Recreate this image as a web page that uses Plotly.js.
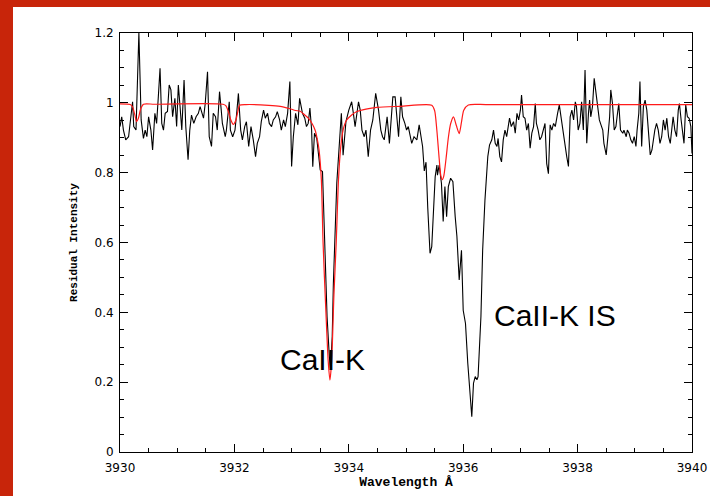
<!DOCTYPE html>
<html>
<head>
<meta charset="utf-8">
<script src="https://cdn.plot.ly/plotly-3.0.1.min.js"></script>
<style>
  html, body { margin: 0; padding: 0; width: 710px; height: 496px; overflow: hidden; background: rgb(200, 37, 10); }
  #frame { position: absolute; left: 13px; top: 7px; width: 697px; height: 489px; background: #fff; }
  #plot { width: 697px; height: 489px; }
</style>
</head>
<body>
<div id="frame"><div id="plot"></div></div>
<script>
// Observed spectrum: wavelength (Å) and residual intensity
const obsWavelength = [
  3930.00, 3930.03, 3930.06, 3930.10, 3930.15, 3930.19, 3930.22, 3930.24, 3930.28, 3930.33,
  3930.37, 3930.41, 3930.44, 3930.47, 3930.50, 3930.54, 3930.57, 3930.61, 3930.64, 3930.67,
  3930.70, 3930.73, 3930.76, 3930.79, 3930.83, 3930.86, 3930.89, 3930.92, 3930.96, 3930.99,
  3931.02, 3931.05, 3931.08, 3931.12, 3931.15, 3931.19, 3931.22, 3931.25, 3931.29, 3931.33,
  3931.37, 3931.40, 3931.43, 3931.46, 3931.49, 3931.53, 3931.56, 3931.60, 3931.63, 3931.67,
  3931.70, 3931.74, 3931.77, 3931.79, 3931.84, 3931.86, 3931.91, 3931.93, 3931.97, 3932.01,
  3932.04, 3932.07, 3932.11, 3932.14, 3932.18, 3932.21, 3932.25, 3932.29, 3932.33, 3932.37,
  3932.40, 3932.44, 3932.47, 3932.51, 3932.54, 3932.58, 3932.61, 3932.65, 3932.68, 3932.72,
  3932.75, 3932.79, 3932.82, 3932.86, 3932.89, 3932.93, 3932.97, 3933.00, 3933.03, 3933.07,
  3933.11, 3933.14, 3933.19, 3933.23, 3933.26, 3933.29, 3933.32, 3933.35, 3933.37, 3933.40,
  3933.44, 3933.47, 3933.50, 3933.54, 3933.58, 3933.62, 3933.66, 3933.68, 3933.71, 3933.73,
  3933.79, 3933.83, 3933.87, 3933.90, 3933.95, 3934.00, 3934.05, 3934.08, 3934.11, 3934.17,
  3934.20, 3934.23, 3934.27, 3934.30, 3934.34, 3934.38, 3934.42, 3934.47, 3934.52, 3934.56,
  3934.59, 3934.62, 3934.64, 3934.67, 3934.71, 3934.73, 3934.77, 3934.81, 3934.84, 3934.87,
  3934.91, 3934.94, 3934.98, 3935.01, 3935.04, 3935.10, 3935.14, 3935.19, 3935.23, 3935.26,
  3935.29, 3935.32, 3935.35, 3935.38, 3935.42, 3935.45, 3935.48, 3935.51, 3935.54, 3935.55,
  3935.58, 3935.62, 3935.65, 3935.68, 3935.71, 3935.74, 3935.78, 3935.82, 3935.86, 3935.89,
  3935.93, 3935.97, 3936.00, 3936.04, 3936.08, 3936.12, 3936.15, 3936.18, 3936.21, 3936.24,
  3936.26, 3936.31, 3936.34, 3936.38, 3936.43, 3936.46, 3936.50, 3936.53, 3936.56, 3936.59,
  3936.61, 3936.64, 3936.67, 3936.70, 3936.73, 3936.76, 3936.81, 3936.84, 3936.88, 3936.91,
  3936.94, 3936.97, 3937.00, 3937.02, 3937.05, 3937.08, 3937.11, 3937.14, 3937.17, 3937.20,
  3937.23, 3937.26, 3937.28, 3937.31, 3937.34, 3937.37, 3937.40, 3937.43, 3937.46, 3937.49,
  3937.52, 3937.55, 3937.58, 3937.61, 3937.65, 3937.68, 3937.71, 3937.74, 3937.78, 3937.81,
  3937.84, 3937.87, 3937.90, 3937.93, 3937.96, 3937.98, 3938.01, 3938.04, 3938.07, 3938.10,
  3938.13, 3938.16, 3938.19, 3938.21, 3938.23, 3938.26, 3938.29, 3938.32, 3938.35, 3938.38,
  3938.40, 3938.44, 3938.46, 3938.50, 3938.53, 3938.56, 3938.58, 3938.61, 3938.64, 3938.67,
  3938.69, 3938.72, 3938.75, 3938.79, 3938.81, 3938.85, 3938.87, 3938.90, 3938.93, 3938.96,
  3938.99, 3939.02, 3939.04, 3939.07, 3939.09, 3939.12, 3939.15, 3939.18, 3939.21, 3939.24,
  3939.27, 3939.30, 3939.32, 3939.35, 3939.38, 3939.41, 3939.44, 3939.47, 3939.50, 3939.53,
  3939.56, 3939.59, 3939.62, 3939.65, 3939.67, 3939.70, 3939.73, 3939.76, 3939.78, 3939.81,
  3939.84, 3939.86, 3939.89, 3939.92, 3939.95, 3939.98, 3940.00
];
const obsIntensity = [
  0.932, 0.960, 0.922, 0.894, 0.903, 0.970, 1.003, 0.932, 0.922, 1.200,
  0.951, 0.898, 0.922, 0.903, 0.960, 0.922, 0.865, 0.970, 0.941, 1.017,
  1.099, 0.941, 0.922, 0.970, 0.975, 1.051, 1.037, 0.960, 1.013, 0.932,
  1.051, 0.989, 0.922, 1.065, 0.932, 0.837, 0.922, 0.965, 0.941, 0.960,
  0.970, 0.989, 0.975, 0.956, 0.998, 1.089, 0.903, 0.875, 0.970, 0.960,
  0.922, 1.032, 0.979, 0.941, 0.903, 0.922, 1.003, 0.922, 0.903, 0.922,
  0.970, 1.027, 0.922, 0.894, 0.932, 0.946, 0.875, 0.932, 0.894, 0.846,
  0.884, 0.903, 0.946, 0.979, 0.956, 0.970, 0.941, 0.932, 0.951, 0.960,
  0.975, 0.951, 0.922, 0.951, 0.932, 0.970, 1.061, 0.818, 0.903, 0.970,
  0.937, 1.013, 0.970, 0.956, 0.932, 0.941, 0.985, 0.922, 0.817, 0.913,
  0.898, 0.850, 0.808, 0.803, 0.578, 0.388, 0.273, 0.240, 0.330, 0.482,
  0.770, 0.880, 0.970, 0.850, 0.946, 0.979, 1.003, 0.970, 0.932, 1.003,
  0.979, 0.922, 0.903, 0.922, 0.846, 0.922, 0.951, 1.027, 0.979, 0.922,
  0.903, 0.894, 0.922, 0.960, 0.884, 0.941, 1.017, 1.017, 0.960, 0.903,
  1.017, 0.960, 0.941, 0.922, 0.932, 0.884, 0.903, 0.894, 0.937, 0.903,
  0.875, 0.805, 0.830, 0.700, 0.569, 0.588, 0.684, 0.788, 0.822, 0.793,
  0.822, 0.769, 0.660, 0.760, 0.674, 0.760, 0.784, 0.774, 0.674, 0.617,
  0.493, 0.578, 0.406, 0.368, 0.254, 0.149, 0.101, 0.197, 0.216, 0.207,
  0.216, 0.388, 0.578, 0.721, 0.846, 0.879, 0.894, 0.922, 0.884, 0.875,
  0.898, 0.846, 0.831, 0.894, 0.922, 0.903, 0.956, 0.932, 0.946, 0.913,
  0.970, 0.951, 0.979, 1.022, 0.960, 0.956, 0.922, 0.941, 0.870, 0.913,
  0.932, 0.998, 0.941, 0.922, 0.894, 0.903, 0.922, 0.941, 0.826, 0.797,
  0.937, 0.922, 0.941, 0.932, 0.970, 0.994, 0.960, 0.922, 0.884, 0.846,
  0.818, 0.960, 0.979, 0.951, 1.003, 0.989, 0.922, 0.941, 1.003, 0.922,
  1.094, 0.884, 0.970, 1.008, 0.960, 0.989, 1.070, 1.027, 0.989, 0.951,
  0.941, 0.922, 0.884, 0.851, 0.903, 0.960, 1.037, 0.998, 0.922, 0.932,
  0.960, 0.998, 0.922, 0.913, 0.922, 0.903, 0.922, 0.913, 0.894, 0.884,
  0.903, 0.875, 0.922, 0.970, 1.061, 0.875, 0.989, 1.008, 0.979, 0.922,
  0.851, 0.865, 0.894, 0.922, 0.941, 0.922, 0.884, 0.903, 0.951, 0.922,
  0.956, 0.903, 0.884, 0.922, 0.960, 0.922, 0.903, 0.979, 0.998, 0.951,
  0.903, 0.884, 0.994, 0.960, 0.956, 0.932, 0.855
];

// Model profile: wavelength (Å) and residual intensity
const modelWavelength = [
  3930.00, 3930.18, 3930.22, 3930.26, 3930.29, 3930.32, 3930.36, 3930.41, 3930.60, 3931.80,
  3931.85, 3931.90, 3931.94, 3931.98, 3932.02, 3932.06, 3932.09, 3932.20, 3932.60, 3932.80,
  3932.97, 3933.07, 3933.15, 3933.23, 3933.30, 3933.36, 3933.41, 3933.45, 3933.48, 3933.52,
  3933.55, 3933.60, 3933.64, 3933.67, 3933.70, 3933.74, 3933.78, 3933.82, 3933.86, 3933.90,
  3933.96, 3934.05, 3934.14, 3934.30, 3934.49, 3934.90, 3935.45, 3935.50, 3935.54, 3935.58,
  3935.61, 3935.635, 3935.66, 3935.70, 3935.74, 3935.78, 3935.83, 3935.88, 3935.93, 3935.97,
  3936.01, 3936.09, 3936.40, 3937.50, 3938.50, 3940.00
];
const modelIntensity = [
  0.997, 0.995, 0.988, 0.965, 0.946, 0.955, 0.982, 0.996, 0.996, 0.996,
  0.992, 0.972, 0.950, 0.938, 0.948, 0.975, 0.993, 0.995, 0.993, 0.990,
  0.983, 0.978, 0.976, 0.965, 0.955, 0.940, 0.922, 0.895, 0.865, 0.780,
  0.600, 0.400, 0.260, 0.206, 0.260, 0.450, 0.600, 0.780, 0.875, 0.922,
  0.950, 0.965, 0.975, 0.982, 0.987, 0.990, 0.993, 0.978, 0.920, 0.840,
  0.790, 0.780, 0.790, 0.840, 0.900, 0.940, 0.960, 0.935, 0.912, 0.945,
  0.979, 0.994, 0.995, 0.995, 0.995, 0.995
];

// Line identifications
const labelText = ['CaII-K', 'CaII-K IS'];
const labelWavelength = [3933.54, 3937.60];
const labelIntensity = [0.266, 0.392];

const tickFont = { family: 'DejaVu Sans, sans-serif', size: 12, color: '#000' };
const monoFont = 'Liberation Mono, monospace';

const traces = [
  {
    x: obsWavelength, y: obsIntensity, type: 'scatter', mode: 'lines',
    line: { color: '#000', width: 1.1 }, hoverinfo: 'x+y', showlegend: false
  },
  {
    x: modelWavelength, y: modelIntensity, type: 'scatter', mode: 'lines',
    line: { color: '#ff1a1a', width: 1.2, shape: 'spline', smoothing: 0.7 },
    hoverinfo: 'x+y', showlegend: false
  }
];

const annotations = labelText.map((t, i) => ({
  x: labelWavelength[i], y: labelIntensity[i], xref: 'x', yref: 'y',
  text: t, showarrow: false, xanchor: 'center', yanchor: 'middle',
  font: { family: 'Liberation Sans, Arial, sans-serif', size: 30, color: '#000' }
}));

const layout = {
  width: 697, height: 489,
  margin: { l: 107, r: 18, t: 26, b: 44, pad: 0 },
  paper_bgcolor: '#fff', plot_bgcolor: '#fff',
  showlegend: false,
  xaxis: {
    range: [3930, 3940], tickvals: [3930, 3932, 3934, 3936, 3938, 3940],
    ticks: 'inside', ticklen: 8, tickwidth: 1, tickcolor: '#000', ticklabelstandoff: 5,
    minor: { dtick: 0.5, ticks: 'inside', ticklen: 4, tickwidth: 1, tickcolor: '#000' },
    showline: true, linecolor: '#000', linewidth: 1, mirror: 'allticks',
    showgrid: false, zeroline: false, tickfont: tickFont,
    title: { text: '<b>Wavelength Å</b>', font: { family: monoFont, size: 13, color: '#000' }, standoff: 0 }
  },
  yaxis: {
    range: [0, 1.2], tickvals: [0, 0.2, 0.4, 0.6, 0.8, 1, 1.2],
    ticktext: ['0', '0.2', '0.4', '0.6', '0.8', '1', '1.2'],
    ticks: 'inside', ticklen: 8, tickwidth: 1, tickcolor: '#000', ticklabelstandoff: 3,
    minor: { dtick: 0.05, ticks: 'inside', ticklen: 4, tickwidth: 1, tickcolor: '#000' },
    showline: true, linecolor: '#000', linewidth: 1, mirror: 'allticks',
    showgrid: false, zeroline: false, tickfont: tickFont,
    title: { text: '<b>Residual Intensity</b>', font: { family: monoFont, size: 11, color: '#000' }, standoff: 14 }
  },
  annotations: annotations
};

Plotly.newPlot('plot', traces, layout, { displayModeBar: false, staticPlot: true });
</script>
</body>
</html>
